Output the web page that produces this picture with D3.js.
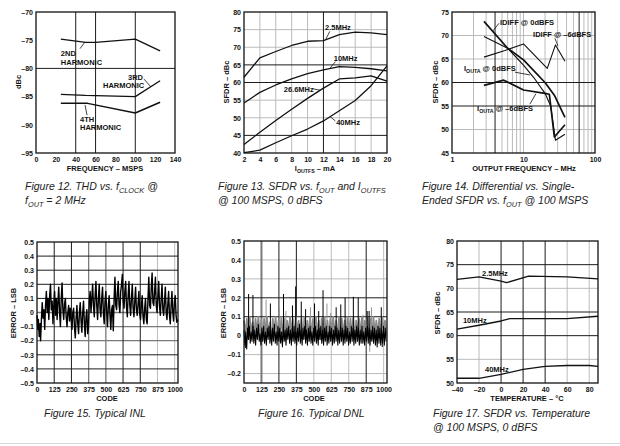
<!DOCTYPE html>
<html><head><meta charset="utf-8">
<script src="https://cdn.jsdelivr.net/npm/d3@7"></script>
<style>body{margin:0;background:#fff}svg{display:block}</style>
</head><body><svg id="c" width="620" height="446"></svg>
<script>
// ================= DATA =================
// Figure 12: THD vs fCLOCK
const thdFreq = [25, 50, 60, 100, 125];
const thd2nd = [-74.8, -75.4, -75.4, -74.8, -76.9];
const thd3rdFreq = [25, 50, 100, 125];
const thd3rd = [-84.6, -84.8, -85.0, -82.2];
const thd4thFreq = [25, 52, 100, 125];
const thd4th = [-86.2, -86.2, -87.9, -86.0];
const thdXTicks = [0, 20, 40, 60, 80, 100, 120, 140];
const thdYTicks = [-70, -75, -80, -85, -90, -95];

// Figure 13: SFDR vs IOUTFS
const ioutfs = [2, 4, 6, 8, 10, 12, 14, 16, 18, 20];
const sfdr2p5 = [61.5, 67.0, 68.8, 70.5, 71.7, 71.9, 73.6, 74.3, 74.1, 73.6];
const sfdr10 = [54.2, 57.2, 59.3, 61.0, 62.5, 63.6, 64.5, 64.3, 63.9, 63.3];
const sfdr26p6 = [42.4, 45.9, 49.2, 52.4, 55.5, 58.4, 61.0, 61.3, 61.9, 60.4];
const sfdr40 = [40.1, 40.8, 42.9, 44.9, 46.8, 49.1, 52.0, 54.9, 59.1, 64.7];
const ioutXTicks = [2, 4, 6, 8, 10, 12, 14, 16, 18, 20];
const ioutYTicks = [40, 45, 50, 55, 60, 65, 70, 75, 80];

// Figure 14: Differential vs single-ended SFDR vs fOUT
const idiff0 = [[2.8, 73.0], [6, 67.3], [10, 64.8], [20, 60.0], [27, 57.3], [38, 52.6]];
const idiff6 = [[2.8, 65.4], [5.5, 66.8], [10, 68.2], [21.5, 63.0], [28, 68.0], [38, 64.5]];
const iouta0 = [[2.8, 69.8], [6, 67.3], [10, 63.7], [14, 61.0], [20, 57.7], [24, 55.0], [28, 47.7], [38, 49.0]];
const iouta6 = [[2.8, 59.4], [5.3, 60.5], [10, 58.4], [20, 57.7], [23, 57.5], [27, 48.4], [38, 51.0]];
const foutXTicks = [1, 10, 100];
const foutYTicks = [45, 50, 55, 60, 65, 70, 75];

// Figure 15: Typical INL  [code, LSB]
const inlPoints = [[0,-0.02],[6,-0.12],[10,-0.05],[16,-0.17],[22,-0.08],[26,-0.2],[32,-0.05],[38,0.07],[44,-0.04],[50,0.02],[56,-0.12],[62,0.05],[68,0.15],[74,0.0],[80,0.1],[86,-0.05],[92,0.12],[98,0.2],[104,0.02],[110,0.08],[116,-0.08],[122,0.05],[128,0.15],[134,-0.02],[140,0.1],[146,-0.05],[152,0.08],[158,0.18],[164,0.0],[170,-0.1],[176,0.1],[182,0.21],[188,0.02],[194,-0.05],[200,0.06],[206,0.1],[212,-0.03],[218,-0.1],[224,0.0],[230,0.05],[236,-0.06],[242,0.03],[248,-0.05],[254,-0.12],[260,0.0],[266,0.03],[272,-0.1],[278,-0.18],[284,-0.04],[290,0.05],[296,-0.08],[302,-0.15],[308,0.0],[314,0.07],[320,-0.06],[326,-0.14],[332,0.0],[338,0.08],[344,-0.08],[350,-0.17],[356,-0.03],[362,0.02],[368,-0.15],[374,-0.1],[380,0.08],[386,0.15],[392,0.0],[398,0.1],[404,0.2],[410,0.05],[416,-0.03],[422,0.12],[428,0.22],[434,0.05],[440,-0.05],[446,0.1],[452,0.2],[458,0.02],[464,-0.03],[470,0.1],[476,0.18],[482,0.0],[488,-0.08],[494,0.08],[500,0.15],[506,0.0],[512,-0.1],[518,0.05],[524,0.12],[530,-0.02],[536,-0.12],[542,0.02],[548,0.05],[554,-0.13],[560,0.1],[566,0.25],[572,0.05],[578,0.02],[584,0.15],[590,0.22],[596,0.05],[602,0.0],[608,0.15],[614,0.2],[620,0.27],[626,0.08],[632,0.03],[638,0.15],[644,0.22],[650,0.04],[656,-0.03],[662,0.12],[668,0.22],[674,0.05],[680,-0.02],[686,0.1],[692,0.2],[698,0.03],[704,-0.03],[710,0.08],[716,0.18],[722,0.02],[728,-0.02],[734,0.06],[740,0.15],[746,-0.01],[752,-0.05],[758,0.05],[764,0.12],[770,-0.03],[776,-0.08],[782,0.03],[788,0.1],[794,-0.05],[800,-0.08],[806,0.1],[812,0.25],[818,0.05],[824,0.03],[830,0.18],[836,0.28],[842,0.07],[848,0.05],[854,0.15],[860,0.25],[866,0.05],[872,0.0],[878,0.12],[884,0.22],[890,0.04],[896,-0.02],[902,0.1],[908,0.2],[914,0.02],[920,-0.02],[926,0.08],[932,0.18],[938,0.0],[944,-0.05],[950,0.06],[956,0.15],[962,-0.02],[968,-0.08],[974,0.05],[980,0.15],[986,0.0],[992,-0.06],[998,0.08],[1004,0.12],[1010,-0.02],[1016,-0.07],[1023,-0.05]];
const codeTicks = [0, 125, 250, 375, 500, 625, 750, 875, 1000];
const inlYTicks = [0.5, 0.4, 0.3, 0.2, 0.1, 0, -0.1, -0.2, -0.3, -0.4, -0.5];

// Figure 16: Typical DNL
const dnlCodeStep = 6.4;       // black trace sample spacing (codes)
const dnlBlack = [0.03,-0.05,0.02,-0.07,0.04,-0.02,0.05,-0.04,0.02,-0.03,0.05,-0.04,0.03,-0.05,0.04,-0.02,0.06,-0.03,0.01,-0.05,0.04,-0.03,0.05,-0.04,0.02,-0.05,0.04,-0.02,0.05,-0.04,0.03,-0.05,0.04,-0.03,0.06,-0.04,0.02,-0.05,0.05,-0.03,0.04,-0.04,0.02,-0.06,0.05,-0.03,0.03,-0.05,0.04,-0.02,0.05,-0.04,0.03,-0.05,0.04,-0.03,0.05,-0.04,0.02,-0.05,0.04,-0.03,0.06,-0.04,0.03,-0.05,0.04,-0.02,0.05,-0.04,0.03,-0.05,0.04,-0.03,0.05,-0.04,0.02,-0.05,0.04,-0.03,0.05,-0.04,0.03,-0.05,0.04,-0.02,0.05,-0.04,0.03,-0.05,0.04,-0.03,0.05,-0.05,0.02,-0.04,0.05,-0.03,0.04,-0.05,0.03,-0.04,0.05,-0.03,0.04,-0.05,0.03,-0.04,0.05,-0.03,0.04,-0.05,0.03,-0.04,0.05,-0.03,0.04,-0.05,0.02,-0.04,0.05,-0.03,0.04,-0.05,0.03,-0.04,0.05,-0.03,0.04,-0.05,0.03,-0.04,0.05,-0.04,0.02,-0.05,0.04,-0.03,0.05,-0.04,0.04,-0.05,0.03,-0.03,0.05,-0.04,0.04,-0.05,0.03,-0.06,0.05,-0.04,0.04,-0.05,0.03,-0.04,0.05,-0.05,0.04,-0.03];
const dnlGrayStep = 10.3;      // gray trace sample spacing (codes)
const dnlGray = [0.08,0.0,0.09,-0.02,0.1,0.01,0.07,-0.01,0.09,0.02,0.1,0.0,0.08,-0.02,0.09,0.01,0.1,0.0,0.07,-0.03,0.09,0.02,0.1,-0.01,0.08,0.0,0.1,0.01,0.09,-0.02,0.08,0.01,0.1,0.0,0.09,-0.01,0.1,0.02,0.08,0.0,0.09,-0.02,0.1,0.01,0.08,0.0,0.1,-0.01,0.09,0.02,0.1,0.0,0.08,-0.02,0.09,0.01,0.1,0.0,0.08,-0.01,0.09,0.02,0.1,0.0,0.08,-0.02,0.1,0.01,0.09,0.0,0.08,-0.01,0.1,0.02,0.09,0.0,0.1,-0.02,0.08,0.01,0.09,0.0,0.1,-0.01,0.08,0.02,0.1,0.0,0.09,-0.02,0.1,0.01,0.08,0.0,0.09,-0.01,0.1,0.02,0.08,0.0];
const dnlSpikesDark = [[33,0.22],[64,0.215],[189,0.17],[283,0.22],[347,0.16],[370,0.26],[410,0.18],[441,0.14],[505,0.17],[535,0.13],[566,0.24],[660,0.15],[693,0.165],[724,0.2],[783,0.205],[818,0.2],[882,0.13],[896,0.13],[983,0.15],[10,-0.065],[990,-0.06]];
const dnlSpikesGray = [[158,0.19],[252,0.14],[476,0.15],[594,0.17],[853,0.11],[913,0.15],[900,-0.085],[300,0.13],[620,0.12]];
const dnlYTicks = [0.5, 0.4, 0.3, 0.2, 0.1, 0, -0.1, -0.2];

// Figure 17: SFDR vs temperature
const temp2p5 = [[-40, 71.9], [-20, 72.4], [0, 71.5], [5, 71.2], [25, 72.6], [60, 72.4], [88, 72.0]];
const temp10 = [[-40, 61.4], [-20, 62.2], [0, 63.1], [8, 63.6], [25, 63.6], [60, 63.6], [88, 64.1]];
const temp40 = [[-40, 51.0], [-20, 51.0], [0, 51.8], [20, 52.9], [40, 53.5], [60, 53.7], [80, 53.7], [88, 53.5]];
const tempXTicks = [-40, -20, 0, 20, 40, 60, 80];
const tempYTicks = [50, 55, 60, 65, 70, 75, 80];

// ================= DRAWING =================
const svg = d3.select("#c");
const FONT = "'Liberation Sans', Arial, Helvetica, sans-serif";
const DARK = "#1c1c1c", MID = "#7a7a7a", LIGHT = "#b4b4b4";
const TICK = 7;

function rich(g, x, y, parts, o) {
  const t = g.append("text").attr("x", x).attr("y", y)
    .attr("font-family", FONT).attr("font-size", o.size)
    .attr("font-weight", o.weight || "normal").attr("font-style", o.style || "normal")
    .attr("fill", o.fill || "#111").attr("text-anchor", o.anchor || "start");
  if (o.rotate) t.attr("transform", `rotate(-90,${x},${y})`);
  let prevSub = false;
  parts.forEach(p => {
    const isSub = typeof p === "object";
    const s = t.append("tspan").text(isSub ? p.sub : p);
    if (isSub) s.attr("font-size", o.size * 0.7).attr("dy", o.size * 0.25);
    else if (prevSub) s.attr("dy", -o.size * 0.25);
    prevSub = isSub;
  });
  return t;
}

function panel(box, x, y) {
  const g = svg.append("g");
  return {g, x, y, box};
}
function gridLines(P, xv, yv, color, w) {
  const {g, x, y, box} = P;
  g.selectAll(null).data(xv).enter().append("line")
    .attr("x1", d => x(d)).attr("x2", d => x(d)).attr("y1", box.T).attr("y2", box.B)
    .attr("stroke", color).attr("stroke-width", w);
  g.selectAll(null).data(yv).enter().append("line")
    .attr("y1", d => y(d)).attr("y2", d => y(d)).attr("x1", box.L).attr("x2", box.R)
    .attr("stroke", color).attr("stroke-width", w);
}
function frameAxes(P, xt, yt, xfmt, yfmt) {
  const {g, x, y, box} = P;
  g.append("rect").attr("x", box.L).attr("y", box.T).attr("width", box.R - box.L).attr("height", box.B - box.T)
    .attr("fill", "none").attr("stroke", "#111").attr("stroke-width", 1.3);
  const ax = g.append("g").attr("transform", `translate(0,${box.B})`)
    .call(d3.axisBottom(x).tickValues(xt).tickSize(0).tickPadding(4).tickFormat(xfmt));
  const ay = g.append("g").attr("transform", `translate(${box.L},0)`)
    .call(d3.axisLeft(y).tickValues(yt).tickSize(0).tickPadding(3).tickFormat(yfmt));
  [ax, ay].forEach(a => {
    a.select(".domain").remove();
    a.selectAll("text").attr("font-family", FONT).attr("font-size", TICK).attr("font-weight", "bold").attr("fill", "#111");
  });
}
function curve(P, pts, w, color) {
  const line = d3.line().x(d => P.x(d[0])).y(d => P.y(d[1]));
  P.g.append("path").attr("d", line(pts)).attr("fill", "none")
    .attr("stroke", color || "#111").attr("stroke-width", w).attr("stroke-linejoin", "round");
}
function leader(P, a, b) {
  P.g.append("line").attr("x1", P.x(a[0])).attr("y1", P.y(a[1])).attr("x2", P.x(b[0])).attr("y2", P.y(b[1]))
    .attr("stroke", "#111").attr("stroke-width", 0.8);
}
function label(P, at, parts, size) {
  rich(P.g, P.x(at[0]), P.y(at[1]), parts, {size: size || 7.5, weight: "bold"});
}
const zip = (xs, ys) => xs.map((v, i) => [v, ys[i]]);
const dashFmt = d => d3.format("d")(d).replace("−", "–");
const dec1 = d => d === 0 ? "0" : d3.format(".1f")(d).replace("−", "–");
const capt = {size: 10.5, style: "italic", fill: "#222"};

// ---------- Figure 12 ----------
{
  const box = {L: 36, T: 12, R: 175, B: 153};
  const P = panel(box, d3.scaleLinear([0, 140], [box.L, box.R]), d3.scaleLinear([-95, -70], [box.B, box.T]));
  gridLines(P, [40, 60, 100], [-80], DARK, 1);
  frameAxes(P, thdXTicks, thdYTicks, d => d, dashFmt);
  curve(P, zip(thdFreq, thd2nd), 1.3);
  curve(P, zip(thd3rdFreq, thd3rd), 1.3);
  curve(P, zip(thd4thFreq, thd4th), 1.5);
  label(P, [25, -77.8], ["2ND"]); label(P, [25, -79.4], ["HARMONIC"]);
  leader(P, [44.3, -76.5], [49.4, -75.3]);
  label(P, [92.7, -82.1], ["3RD"]); label(P, [67.5, -83.5], ["HARMONIC"]);
  leader(P, [108.8, -81.9], [115.8, -83.3]);
  label(P, [44.3, -89.5], ["4TH"]); label(P, [44.3, -90.9], ["HARMONIC"]);
  leader(P, [51.4, -88.3], [49.4, -86.5]);
  rich(P.g, 105, 171, ["FREQUENCY – MSPS"], {size: 7.5, weight: "bold", anchor: "middle"});
  rich(P.g, 21, 82, ["dBc"], {size: 7.5, weight: "bold", anchor: "middle", rotate: true});
  rich(P.g, 25, 190, ["Figure 12. THD vs. f", {sub: "CLOCK"}, " @"], capt);
  rich(P.g, 25, 204, ["f", {sub: "OUT"}, " = 2 MHz"], capt);
}

// ---------- Figure 13 ----------
{
  const box = {L: 244, T: 12, R: 387, B: 153};
  const P = panel(box, d3.scaleLinear([2, 20], [box.L, box.R]), d3.scaleLinear([40, 80], [box.B, box.T]));
  gridLines(P, [4, 6, 8, 10, 14, 16, 18], [50, 55, 70, 75], LIGHT, 0.9);
  gridLines(P, [12], [45, 60, 65], DARK, 1);
  frameAxes(P, ioutXTicks, ioutYTicks, d => d, d => d);
  curve(P, zip(ioutfs, sfdr2p5), 1.3);
  curve(P, zip(ioutfs, sfdr10), 1.3);
  curve(P, zip(ioutfs, sfdr26p6), 1.3);
  curve(P, zip(ioutfs, sfdr40), 1.3);
  label(P, [12.2, 74.9], ["2.5MHz"]); leader(P, [12.8, 74.5], [12.3, 72.3]);
  label(P, [13.3, 66.1], ["10MHz"]); leader(P, [13.5, 65.9], [12.8, 64.0]);
  label(P, [7.0, 57.3], ["26.6MHz"]); leader(P, [10.7, 58.2], [11.6, 57.8]);
  label(P, [13.6, 47.9], ["40MHz"]); leader(P, [13.5, 49.1], [12.8, 50.4]);
  rich(P.g, 315, 171, ["I", {sub: "OUTFS"}, " – mA"], {size: 7.5, weight: "bold", anchor: "middle"});
  rich(P.g, 229, 82, ["SFDR – dBc"], {size: 7.5, weight: "bold", anchor: "middle", rotate: true});
  rich(P.g, 218, 190, ["Figure 13. SFDR vs. f", {sub: "OUT"}, " and I", {sub: "OUTFS"}], capt);
  rich(P.g, 218, 204, ["@ 100 MSPS, 0 dBFS"], capt);
}

// ---------- Figure 14 ----------
{
  const box = {L: 452, T: 12, R: 595, B: 153};
  const P = panel(box, d3.scaleLog([1, 100], [box.L, box.R]), d3.scaleLinear([45, 75], [box.B, box.T]));
  gridLines(P, [2, 3, 5, 6, 7, 8, 9, 10, 20, 30, 40, 50, 70, 80, 90], [50, 65, 70], LIGHT, 0.9);
  gridLines(P, [4, 60], [55, 60], DARK, 1);
  frameAxes(P, foutXTicks, foutYTicks, d => d, d => d);
  curve(P, idiff6, 1.1);
  curve(P, iouta0, 1.1);
  curve(P, idiff0, 1.7);
  curve(P, iouta6, 1.7);
  label(P, [4.69, 72.2], ["IDIFF @ 0dBFS"]); leader(P, [4.54, 72.6], [3.75, 71.0]);
  label(P, [13.6, 69.7], ["IDIFF @ –6dBFS"]); leader(P, [27.5, 69.4], [30.3, 67.8]);
  label(P, [1.47, 62.4], ["I", {sub: "OUTA"}, " @ 0dBFS"]); leader(P, [7.6, 62.2], [12.3, 61.6]);
  label(P, [2.24, 53.9], ["I", {sub: "OUTA"}, " @ –6dBFS"]); leader(P, [12.3, 55.4], [14.9, 57.6]);
  rich(P.g, 524, 171, ["OUTPUT FREQUENCY – MHz"], {size: 7.5, weight: "bold", anchor: "middle"});
  rich(P.g, 438, 82, ["SFDR – dBc"], {size: 7.5, weight: "bold", anchor: "middle", rotate: true});
  rich(P.g, 422, 190, ["Figure 14. Differential vs. Single-"], capt);
  rich(P.g, 422, 204, ["Ended SFDR vs. f", {sub: "OUT"}, " @ 100 MSPS"], capt);
}

// ---------- Figure 15 ----------
{
  const box = {L: 37, T: 242, R: 178, B: 383};
  const P = panel(box, d3.scaleLinear([0, 1024], [box.L, box.R]), d3.scaleLinear([-0.5, 0.5], [box.B, box.T]));
  gridLines(P, [875, 1000], [], LIGHT, 0.9);
  gridLines(P, [375, 500], [0, -0.1, -0.2], MID, 1.3);
  gridLines(P, [125, 250, 625, 750], [0.4, 0.3, 0.2, 0.1, -0.3, -0.4], DARK, 1);
  frameAxes(P, codeTicks, inlYTicks, d => d, dec1);
  curve(P, inlPoints, 1.4, "#000");
  rich(P.g, 107, 401, ["CODE"], {size: 7.5, weight: "bold", anchor: "middle"});
  rich(P.g, 16, 313, ["ERROR – LSB"], {size: 7.5, weight: "bold", anchor: "middle", rotate: true});
  rich(P.g, 44, 417, ["Figure 15.  Typical INL"], capt);
}

// ---------- Figure 16 ----------
{
  const box = {L: 244, T: 241, R: 387, B: 383};
  const P = panel(box, d3.scaleLinear([0, 1024], [box.L, box.R]), d3.scaleLinear([-0.25, 0.5], [box.B, box.T]));
  gridLines(P, [500, 625, 750, 1000], [0.4, 0.3, -0.1, -0.2], LIGHT, 0.9);
  gridLines(P, [125], [], MID, 2);
  gridLines(P, [250, 375, 875], [0.2, 0.1], DARK, 1);
  curve(P, dnlGray.map((v, i) => [i * dnlGrayStep, v]), 1.7, "#8a8a8a");
  dnlSpikesGray.forEach(s => curve(P, [[s[0], 0], s], 0.9, "#8a8a8a"));
  curve(P, dnlBlack.map((v, i) => [i * dnlCodeStep, v]), 1.05, "#000");
  dnlSpikesDark.forEach(s => curve(P, [[s[0], 0], s], 1, "#000"));
  frameAxes(P, codeTicks, dnlYTicks, d => d, dec1);
  rich(P.g, 314, 401, ["CODE"], {size: 7.5, weight: "bold", anchor: "middle"});
  rich(P.g, 226, 313, ["ERROR – LSB"], {size: 7.5, weight: "bold", anchor: "middle", rotate: true});
  rich(P.g, 258, 417, ["Figure 16.  Typical DNL"], capt);
}

// ---------- Figure 17 ----------
{
  const box = {L: 457, T: 241, R: 598, B: 383};
  const P = panel(box, d3.scaleLinear([-40, 88], [box.L, box.R]), d3.scaleLinear([50, 80], [box.B, box.T]));
  gridLines(P, [-20, 60, 80], [70, 55], LIGHT, 0.9);
  gridLines(P, [0, 20, 40], [75, 65, 60], DARK, 1);
  frameAxes(P, tempXTicks, tempYTicks, dashFmt, d => d);
  curve(P, temp2p5, 1.3);
  curve(P, temp10, 1.3);
  curve(P, temp40, 1.3);
  label(P, [-17.3, 72.6], ["2.5MHz"]);
  label(P, [-34.6, 62.7], ["10MHz"]);
  label(P, [-14.6, 52.3], ["40MHz"]);
  rich(P.g, 527, 401, ["TEMPERATURE – °C"], {size: 7.5, weight: "bold", anchor: "middle"});
  rich(P.g, 440, 313, ["SFDR – dBc"], {size: 7.5, weight: "bold", anchor: "middle", rotate: true});
  rich(P.g, 433, 417, ["Figure 17.  SFDR vs. Temperature"], capt);
  rich(P.g, 433, 431, ["@ 100 MSPS, 0 dBFS"], capt);
}
svg.append("line").attr("x1", 0).attr("x2", 620).attr("y1", 443.5).attr("y2", 443.5).attr("stroke", "#d6d6d6").attr("stroke-width", 1);
</script></body></html>
